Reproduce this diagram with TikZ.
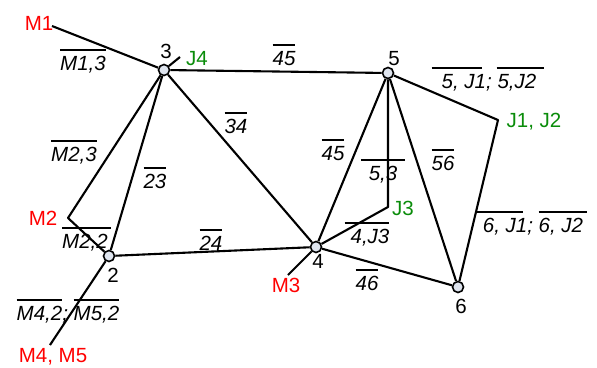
\documentclass[tikz,border=0pt]{standalone}
\usepackage{fontspec}
\setmainfont{Liberation Sans}
\definecolor{mred}{RGB}{255,0,0}
\definecolor{jgreen}{RGB}{10,140,10}
\definecolor{vfill}{RGB}{222,228,238}
\newsavebox\olbox
\NewDocumentCommand\ovl{O{0pt}O{0pt}m}{\sbox\olbox{#3}\rlap{\kern-#1\rule[0.93em]{\dimexpr\wd\olbox+#1+#2\relax}{0.1em}}\usebox\olbox}
\begin{document}
\begin{tikzpicture}[x=1pt,y=-1pt,
  txt/.style={font=\fontsize{20.5}{24}\selectfont, inner sep=0pt, anchor=base},
  elab/.style={txt, font=\fontsize{20.5}{24}\selectfont\itshape},
  mlab/.style={txt, text=mred},
  jlab/.style={txt, text=jgreen},
  vtx/.style={circle, draw, fill=vfill, line width=1.6pt, minimum size=11pt, inner sep=0pt},
  edge/.style={line width=2.1pt, line join=round}]
\useasboundingbox (0,0) rectangle (597,367);
% vertices
\node[vtx] (v3) at (164,70) {};
\node[vtx] (v5) at (388,73) {};
\node[vtx] (v2) at (109,256) {};
\node[vtx] (v4) at (316,247) {};
\node[vtx] (v6) at (458,287) {};
% free ends
\coordinate (m1) at (52,26);
\coordinate (m2) at (68,218);
\coordinate (m3) at (288,275);
\coordinate (m45) at (50,345);
\coordinate (j4) at (180,57);
\coordinate (j3) at (388,207);
\coordinate (j12) at (498,120);
% edges
\draw[edge] (m1) -- (v3);
\draw[edge] (v3) -- (j4);
\draw[edge] (v3) -- (v5);
\draw[edge] (v3) -- (m2) -- (v2);
\draw[edge] (v3) -- (v2);
\draw[edge] (v3) -- (v4);
\draw[edge] (v2) -- (v4);
\draw[edge] (v2) -- (m45);
\draw[edge] (v4) -- (m3);
\draw[edge] (v4) -- (v5);
\draw[edge] (v5) -- (j3) -- (v4);
\draw[edge] (v5) -- (v6);
\draw[edge] (v5) -- (j12) -- (v6);
\draw[edge] (v4) -- (v6);
% vertex labels
\node[txt] (n3) at (166,58) {3};
\node[txt] (n5) at (394,65) {5};
\node[txt] (n2) at (113,282) {2};
\node[txt] (n4) at (318,268) {4};
\node[txt] (n6) at (461,313) {6};
% terminal labels
\node[mlab] (lm1) at (39,30) {M1};
\node[mlab] (lm2) at (43,225) {M2};
\node[mlab] (lm3) at (286,292) {M3};
\node[mlab] (lm45) at (53,362) {M4, M5};
\node[jlab] (lj4) at (197,65) {J4};
\node[jlab] (lj3) at (403,215) {J3};
\node[jlab] (lj12) at (534,127) {J1, J2};
% edge labels
\node[elab] (e13) at (83,70) {\ovl{M1,3}};
\node[elab] (e45a) at (284,65) {\ovl{45}};
\node[elab] (e5j) at (489,88) {\ovl[10pt][-4pt]{5, J1}; \ovl[1pt][8pt]{5,J2}};
\node[elab] (e23m) at (74,161) {\ovl{M2,3}};
\node[elab] (e23) at (155,188) {\ovl{23}};
\node[elab] (e34) at (236,133) {\ovl{34}};
\node[elab] (e45b) at (333,160) {\ovl{45}};
\node[elab] (e53) at (383,180) {\ovl[8pt][8pt]{5,3}};
\node[elab] (e56) at (443,170) {\ovl{56}};
\node[elab] (e4j3) at (370,243) {\ovl[6pt]{4,J3}};
\node[elab] (e6j) at (533,232) {\ovl[6pt][-4pt]{6, J1}; \ovl[0pt][4pt]{6, J2}};
\node[elab] (e22) at (85,248) {\ovl[0pt][3pt]{M2,2}};
\node[elab] (e24) at (211,250) {\ovl{24}};
\node[elab] (e46) at (367,290) {\ovl{46}};
\node[elab] (e452) at (68,320) {\ovl{M4,2}; \ovl{M5,2}};
\end{tikzpicture}
\end{document}
